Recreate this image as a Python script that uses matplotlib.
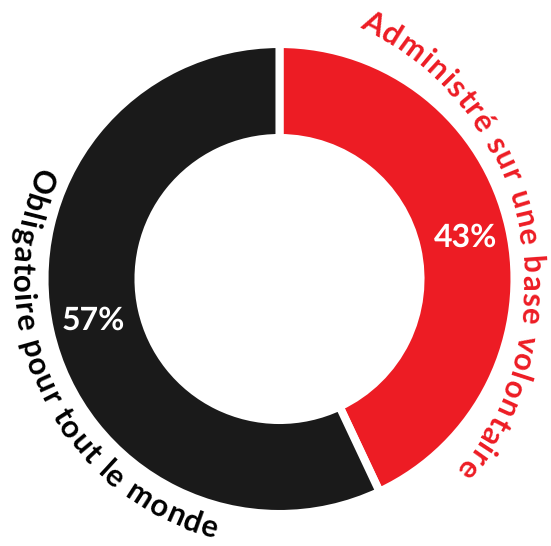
import matplotlib
matplotlib.use('Agg')
import matplotlib.pyplot as plt
import numpy as np
from matplotlib.font_manager import FontProperties

plt.rcParams['text.hinting'] = 'no_hinting'
plt.rcParams['text.hinting_factor'] = 1

# données
labels = ['Administré sur une base volontaire', 'Obligatoire pour tout le monde']
values = [43, 57]
colors = ['#ED1C24', '#1A1A1A']

W, H = 551, 546
cx, cy = 279.5, H - 279          # centre de l'anneau (pixels)
FONT = 'Lato'
SIZE = 22

fig = plt.figure(figsize=(W / 100, H / 100), dpi=100)
ax = fig.add_axes([0, 0, 1, 1])
renderer = fig.canvas.get_renderer()
prop = FontProperties(family=FONT, weight='bold', size=SIZE)


def width(s):
    # largeur en pixels mesurée par le moteur de rendu
    if not s.strip():
        return 0.0
    return renderer.get_text_width_height_descent(s, prop, ismath=False)[0]


def curved(text, center_deg, span_deg, r_base, clockwise, color, ox, oy):
    # texte le long d'un arc de centre (ox, oy), ligne de base au rayon r_base,
    # interlettrage choisi pour couvrir span_deg entre la première et la dernière lettre
    pos = np.array([width(text[:i + 1]) - width(ch) / 2 for i, ch in enumerate(text)])
    track = (np.radians(span_deg) * r_base - (pos[-1] - pos[0])) / (len(text) - 1)
    pos = pos + track * np.arange(len(text))
    pos = pos - (pos[0] + pos[-1]) / 2
    for ch, s in zip(text, pos):
        if ch == ' ':
            continue
        d = np.degrees(s / r_base)
        theta = center_deg + d if clockwise else center_deg - d
        phi = 90 - theta
        x = ox + r_base * np.cos(np.radians(phi))
        y = oy + r_base * np.sin(np.radians(phi))
        rot = phi - 90 if clockwise else phi + 90
        ax.text(x, y, ch, rotation=rot, rotation_mode='anchor', ha='center', va='baseline',
                color=color, fontproperties=prop)


wedges, texts, autotexts = ax.pie(values, colors=colors, startangle=90, counterclock=False,
                                  radius=235, center=(cx, cy), autopct='%.0f%%', pctdistance=0.81,
                                  wedgeprops=dict(width=94, edgecolor='white', linewidth=5.8),
                                  textprops=dict(color='white', fontsize=23, fontweight='bold', family=FONT))
ax.set_xlim(0, W)
ax.set_ylim(0, H)
ax.set_aspect('equal')
ax.axis('off')

# étiquettes courbes autour de l'anneau
curved(labels[0], 78, 101, 286, True, colors[0], 236.6, H - 285.7)
curved(labels[1], 244, 96.5, 267, False, 'black', cx, cy)

fig.savefig('out.png', dpi=100)
